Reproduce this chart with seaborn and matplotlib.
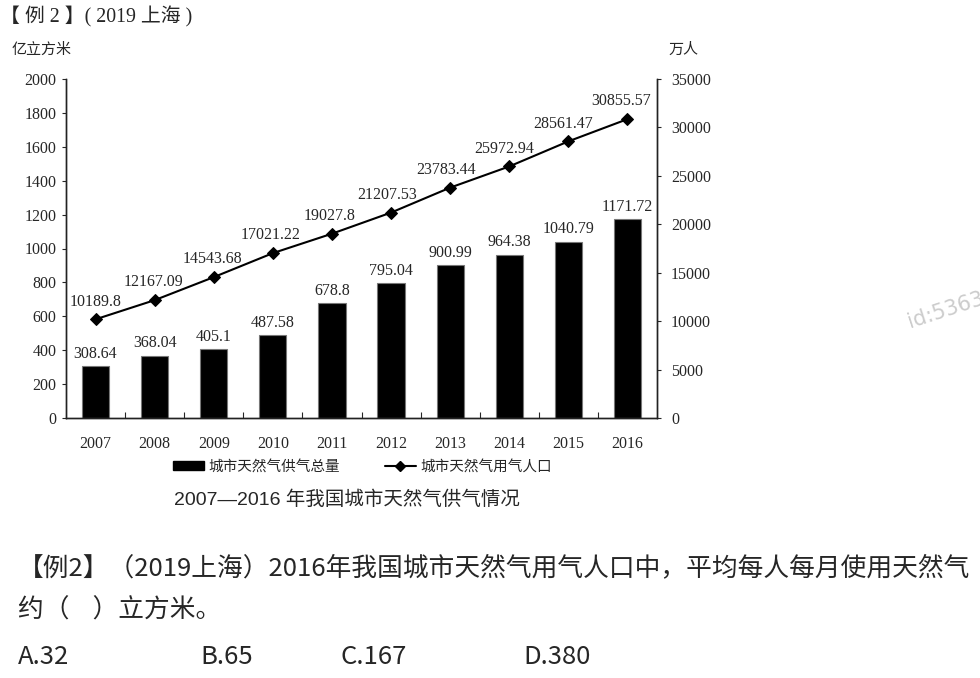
import pandas as pd
import matplotlib
matplotlib.use('Agg')
import matplotlib.pyplot as plt
import seaborn as sns
from matplotlib.patches import Patch
from matplotlib.lines import Line2D

# 數據
years = ['2007', '2008', '2009', '2010', '2011', '2012', '2013', '2014', '2015', '2016']
supply = [308.64, 368.04, 405.1, 487.58, 678.8, 795.04, 900.99, 964.38, 1040.79, 1171.72]
population = [10189.8, 12167.09, 14543.68, 17021.22, 19027.8, 21207.53, 23783.44, 25972.94, 28561.47, 30855.57]
left_ticks = list(range(0, 2001, 200))
right_ticks = list(range(0, 35001, 5000))

df = pd.DataFrame({'year': years, 'supply': supply, 'population': population})

sns.set_style('white')
plt.rcParams['font.family'] = ['Liberation Serif', 'Noto Sans CJK SC']
cjk = ['Noto Sans CJK SC']

W, H = 980, 678
fig = plt.figure(figsize=(W / 100, H / 100), dpi=100)
ax = fig.add_axes([66 / W, 1 - 418 / H, (657 - 66) / W, (418 - 79) / H])

# 柱狀圖
sns.barplot(data=df, x='year', y='supply', color='black', saturation=1,
            width=0.46, edgecolor='#777777', linewidth=0.8, ax=ax)
ax.set_xlim(-0.5, 9.5)
ax.set_ylim(0, 2000)
ax.set_yticks(left_ticks)
ax.set_xlabel('')
ax.set_ylabel('')

for i, v in enumerate(supply):
    ax.annotate(str(v), (i, v), xytext=(0, 3), textcoords='offset points',
                ha='center', va='bottom', fontsize=11.5)

# 折線圖
ax2 = ax.twinx()
sns.lineplot(data=df, x='year', y='population', color='black', marker='D',
             markersize=6, linewidth=1.5, markeredgecolor='black', ax=ax2)
ax2.set_ylim(0, 35000)
ax2.set_yticks(right_ticks)
ax2.set_ylabel('')
ax2.set_xlim(-0.5, 9.5)

for i, v in enumerate(population):
    ax2.annotate(str(v), (i, v), xytext=(-0.5 * i, 7), textcoords='offset points',
                 ha='center', va='bottom', fontsize=11.5)

# 坐標軸樣式
for a in (ax, ax2):
    a.spines['top'].set_visible(False)
    for s in ('left', 'right', 'bottom'):
        a.spines[s].set_color('#222222')
        a.spines[s].set_linewidth(1.0)

ax.tick_params(axis='y', direction='out', length=3, width=0.8, pad=4, labelsize=11.5, left=True)
ax2.tick_params(axis='y', direction='out', length=3, width=0.8, pad=7, labelsize=11.5, right=True)
ax.tick_params(axis='x', length=0, pad=13, labelsize=11.5)
ax.set_xticks([x + 0.5 for x in range(9)], minor=True)
ax.tick_params(axis='x', which='minor', direction='in', length=4, width=0.8, bottom=True)

# 單位
fig.text(12 / W, 1 - 50 / H, '亿立方米', family=cjk, fontsize=10.8, va='center', ha='left')
fig.text(668 / W, 1 - 50 / H, '万人', family=cjk, fontsize=10.8, va='center', ha='left')

# 圖例
handles = [Patch(facecolor='black', edgecolor='black'),
           Line2D([0], [0], color='black', marker='D', markersize=5, linewidth=1.5)]
labels = ['城市天然气供气总量', '城市天然气用气人口']
fig.legend(handles, labels, loc='center left', bbox_to_anchor=(160 / W, 1 - 467 / H),
           ncol=2, frameon=False, prop={'family': cjk, 'size': 10.5},
           handlelength=2.1, handleheight=0.6, handletextpad=0.3, columnspacing=3.1)

# 標題與題目
fig.text(174 / W, 1 - 500 / H, '2007—2016 年我国城市天然气供气情况',
         family=['Liberation Sans', 'Noto Sans CJK SC'], fontsize=14, va='center', ha='left')
fig.text(0 / W, 1 - 17 / H, '【 例 2 】( 2019 上海 )',
         family=['Liberation Serif', 'Noto Sans CJK SC'], fontsize=14.3, va='center', ha='left')

fig.text(18 / W, 1 - 568 / H, '【例2】（2019上海）2016年我国城市天然气用气人口中，平均每人每月使用天然气',
         family=cjk, fontsize=18.5, va='center', ha='left')
fig.text(18 / W, 1 - 611 / H, '约（    ）立方米。', family=cjk, fontsize=18.5, va='center', ha='left')
for x, t in [(18, 'A.32'), (200, 'B.65'), (340, 'C.167'), (523, 'D.380')]:
    fig.text(x / W, 1 - 657 / H, t, family=cjk, fontsize=18.5, va='center', ha='left')

# 水印
fig.text(905 / W, 1 - 332 / H, 'id:53639', family=['DejaVu Sans'], fontsize=15,
         color='#cccccc', rotation=18, va='bottom', ha='left')

fig.savefig('out.png', dpi=100)
